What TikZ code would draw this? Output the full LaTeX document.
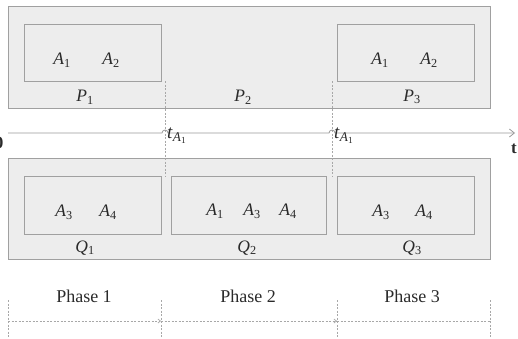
\documentclass[tikz,border=0pt]{standalone}
\usepackage{fontspec}
\setmainfont{Liberation Serif}
\usetikzlibrary{arrows.meta}
\definecolor{boxfill}{HTML}{EDEDED}
\definecolor{boxline}{HTML}{A0A0A0}
\definecolor{inkc}{HTML}{2A2A2A}
\definecolor{guidec}{HTML}{A8A8A8}
\definecolor{axisc}{HTML}{9A9A9A}
\newcommand{\vsym}[2]{\textit{#1}\textsubscript{#2}}
\newcommand{\tmark}{\textit{t}\textsubscript{\textit{A}\textsubscript{1}}}
\begin{document}
\begin{tikzpicture}[x=1pt,y=-1pt,
  outerbox/.style={draw=boxline, fill=boxfill, line width=1pt, minimum width=482pt,
    anchor=north west, inner sep=0pt},
  innerbox/.style={draw=boxline, fill=boxfill, line width=0.8pt, anchor=north west,
    inner sep=0pt},
  sym/.style={font=\fontsize{17.5}{20}\selectfont, text=inkc, inner sep=0pt},
  phasetext/.style={font=\fontsize{18}{20}\selectfont, text=inkc, inner sep=0pt},
  guide/.style={draw=guidec, dash pattern=on 2pt off 1.5pt, line width=0.6pt},
  axisline/.style={draw=axisc, line width=0.8pt},
  phaseline/.style={draw=guidec, dash pattern=on 2pt off 1.5pt, line width=0.7pt}
]
\useasboundingbox (0,0) rectangle (518,338);

% outer bands
\node[outerbox, minimum height=102pt] (top) at (8,6) {};
\node[outerbox, minimum height=101pt] (bot) at (8,158) {};

% inner groups of the upper band
\node[innerbox, minimum width=137pt, minimum height=57pt] (p1box) at (24,24) {};
\node[innerbox, minimum width=137pt, minimum height=57pt] (p3box) at (337,24) {};

% inner groups of the lower band
\node[innerbox, minimum width=137pt, minimum height=58pt] (q1box) at (24,176) {};
\node[innerbox, minimum width=155pt, minimum height=58pt] (q2box) at (171,176) {};
\node[innerbox, minimum width=137pt, minimum height=58pt] (q3box) at (337,176) {};

% members
\node[sym] (a1p1) at (62,60) {\vsym{A}{1}};
\node[sym] (a2p1) at (111,60) {\vsym{A}{2}};
\node[sym] (a1p3) at (380,60) {\vsym{A}{1}};
\node[sym] (a2p3) at (429,60) {\vsym{A}{2}};

\node[sym] (a3q1) at (64,212) {\vsym{A}{3}};
\node[sym] (a4q1) at (108,212) {\vsym{A}{4}};
\node[sym] (a1q2) at (215,211) {\vsym{A}{1}};
\node[sym] (a3q2) at (252,211) {\vsym{A}{3}};
\node[sym] (a4q2) at (288,211) {\vsym{A}{4}};
\node[sym] (a3q3) at (381,212) {\vsym{A}{3}};
\node[sym] (a4q3) at (424,212) {\vsym{A}{4}};

% group names
\node[sym] (p1) at (85,97) {\vsym{P}{1}};
\node[sym] (p2) at (243,97) {\vsym{P}{2}};
\node[sym] (p3) at (412,97) {\vsym{P}{3}};
\node[sym] (q1) at (85,248) {\vsym{Q}{1}};
\node[sym] (q2) at (247,248) {\vsym{Q}{2}};
\node[sym] (q3) at (412,248) {\vsym{Q}{3}};

% switching instants
\coordinate (s1top) at (165,81);
\coordinate (s1bot) at (165,176);
\coordinate (s2top) at (332,81);
\coordinate (s2bot) at (332,176);
\draw[guide] (s1top) -- (s1bot);
\draw[guide] (s2top) -- (s2bot);

% time axis with hops over the guides
\coordinate (axstart) at (8,133);
\coordinate (axend) at (515,133);
\draw[axisline, -{Straight Barb[length=5pt,width=8pt]}]
  (axstart) -- (162,133) arc[start angle=180, end angle=0, radius=3pt]
  -- (329,133) arc[start angle=180, end angle=0, radius=3pt] -- (axend);

\node[sym, font=\fontsize{19}{20}\selectfont, anchor=west] (t1) at (167,136) {\tmark};
\node[sym, font=\fontsize{19}{20}\selectfont, anchor=west] (t2) at (334,136) {\tmark};
\node[sym, font=\fontsize{17}{18}\selectfont\bfseries] (origin) at (-1,143) {0};
\node[sym, font=\fontsize{17}{18}\selectfont\bfseries, anchor=west] (tlabel) at (511,149) {t};

% phases
\node[phasetext] (ph1) at (84,296) {Phase 1};
\node[phasetext] (ph2) at (248,296) {Phase 2};
\node[phasetext] (ph3) at (412,296) {Phase 3};

\coordinate (k0t) at (8,300);   \coordinate (k0b) at (8,338);
\coordinate (k1t) at (161,300); \coordinate (k1b) at (161,338);
\coordinate (k2t) at (337,300); \coordinate (k2b) at (337,338);
\coordinate (k3t) at (490,300); \coordinate (k3b) at (490,338);
\foreach \k in {k0,k1,k2,k3} \draw[phaseline] (\k t) -- (\k b);
\coordinate (m0) at (8,321);
\coordinate (m1) at (161,321);
\coordinate (m2) at (337,321);
\coordinate (m3) at (490,321);
\draw[phaseline, -{Straight Barb[length=2.5pt,width=4pt]}] (m0) -- (m1);
\draw[phaseline, -{Straight Barb[length=2.5pt,width=4pt]}] (m1) -- (m2);
\draw[phaseline] (m2) -- (m3);
\end{tikzpicture}
\end{document}
